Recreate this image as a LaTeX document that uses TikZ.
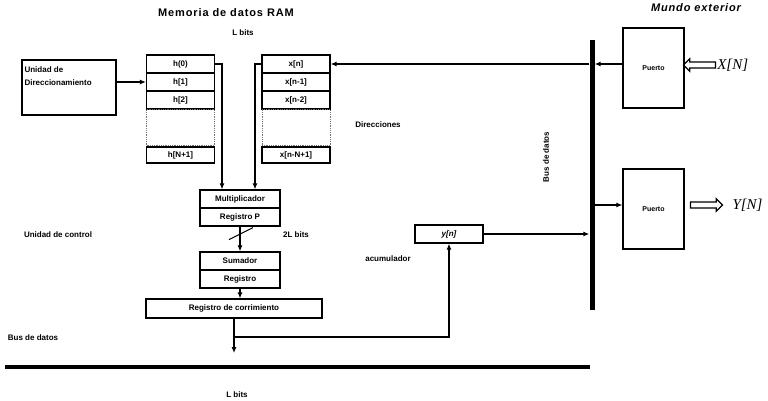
\documentclass[tikz,border=0pt]{standalone}
\usepackage{fontspec}
\setmainfont{Liberation Sans}
\newfontfamily\serifit{Liberation Serif}
\newfontfamily\widesans[LetterSpace=8]{Liberation Sans}
\usepackage{tikz}
\usetikzlibrary{arrows.meta,positioning,shapes.arrows}
\tikzset{
  dsp-text/.style={font=\fontsize{8}{9.5}\selectfont\bfseries, inner sep=1pt},
  dsp-head/.style={font=\widesans\fontsize{11}{13}\selectfont\bfseries, inner sep=1pt},
  dsp-cell/.style={draw=black, line width=1.3pt, minimum width=68pt, minimum height=18pt,
    inner sep=0pt, font=\fontsize{8}{9.5}\selectfont\bfseries},
  dsp-gap/.style={draw=black!55, densely dotted, line width=0.8pt, minimum width=68pt,
    minimum height=36pt, inner sep=0pt},
  dsp-unit/.style={draw=black, line width=1.3pt, minimum width=80pt, minimum height=18pt,
    inner sep=0pt, font=\fontsize{8}{9.5}\selectfont\bfseries},
  dsp-port/.style={draw=black, line width=1.2pt, minimum width=61pt, minimum height=80pt,
    inner sep=0pt, font=\fontsize{7}{8}\selectfont\bfseries},
  dsp-bus/.style={fill=black, draw=none, inner sep=0pt},
  dsp-io/.style={single arrow, draw=black, line width=1.2pt, minimum height=32pt,
    inner sep=2.4pt, single arrow head extend=3.2pt},
  dsp-sym/.style={font=\serifit\itshape\fontsize{15}{17}\selectfont, inner sep=1pt},
  flow/.style={-{Latex[length=6pt,width=5pt]}, line width=1.1pt}
}
\begin{document}
\begin{tikzpicture}[x=1pt, y=-1pt]
  \useasboundingbox (0,0) rectangle (768,401);

  % Titles
  \node[dsp-head] (ramtitle) at (226,13) {Memoria de datos RAM};
  \node[dsp-text] (lbitstop) at (243,33) {L bits};
  \node[dsp-head, font=\widesans\fontsize{11}{13}\selectfont\bfseries\itshape] (mundo) at (696,8) {Mundo exterior};

  % Addressing unit
  \node[draw, line width=1.3pt, minimum width=94pt, minimum height=55pt, inner sep=0pt] (dir) at (69,87.5) {};
  \node[dsp-text, anchor=north west, align=left] (dirtxt) at ([xshift=2pt,yshift=-6pt]dir.north west) {Unidad de\\[4pt]Direccionamiento};

  % Coefficients h
  \node[dsp-cell] (h0) at (180.5,64) {h(0)};
  \node[dsp-cell] (h1) at (180.5,82) {h[1]};
  \node[dsp-cell] (h2) at (180.5,100) {h[2]};
  \node[dsp-gap] (hgap) at (180.5,127.5) {};
  \node[dsp-cell, minimum height=16pt] (hN) at (180.5,155) {h[N+1]};

  % Samples x
  \node[dsp-cell] (x0) at (296,64) {x[n]};
  \node[dsp-cell] (x1) at (296,82) {x[n-1]};
  \node[dsp-cell] (x2) at (296,100) {x[n-2]};
  \node[dsp-gap] (xgap) at (296,127.5) {};
  \node[dsp-cell, minimum height=16pt] (xN) at (296,155) {x[n-N+1]};

  \node[dsp-text] (dirs) at (378,125) {Direcciones};

  % MAC
  \node[dsp-unit] (mul) at (240,199) {Multiplicador};
  \node[dsp-unit] (regp) at (240,217) {Registro P};
  \node[dsp-unit] (sum) at (240,261) {Sumador};
  \node[dsp-unit] (reg) at (240,279) {Registro};
  \node[dsp-unit, minimum width=176pt, minimum height=19pt] (cor) at (234,308.5) {Registro de corrimiento};
  \node[dsp-text] (twol) at (296,235) {2L bits};

  % Accumulator
  \node[dsp-unit, minimum width=68pt, font=\fontsize{8}{9.5}\selectfont\bfseries\itshape] (yn) at (449,234) {y[n]};
  \node[dsp-text] (acum) at (388,259) {acumulador};

  \node[dsp-text] (ctrl) at (58,235) {Unidad de control};

  % Buses
  \node[dsp-bus, minimum width=5pt, minimum height=270pt] (vbus) at (592,175) {};
  \node[dsp-text, rotate=90] (vbuslbl) at (546,157) {Bus de datos};
  \node[dsp-bus, minimum width=585pt, minimum height=4pt] (hbus) at (297.5,367) {};
  \node[dsp-text] (hbuslbl) at (33,338) {Bus de datos};
  \node[dsp-text] (lbitsbot) at (237,395) {L bits};

  % Ports
  \node[dsp-port] (pin) at (653.5,68) {Puerto};
  \node[dsp-port] (pout) at (653.5,209) {Puerto};
  \node[dsp-io, shape border rotate=180] (xarr) at (701,65) {};
  \node[dsp-sym, right=0pt of xarr] (xin) {X[N]};
  \node[dsp-io] (yarr) at (705,205) {};
  \node[dsp-sym, right=8pt of yarr] (yout) {Y[N]};

  % Connections
  \coordinate (acc) at (234,337);
  \coordinate (busin) at (234,353);
  \draw[flow] (dir.east |- h1.west) -- (h1.west);
  \draw[flow] (h0.east) -| ([xshift=-18pt]mul.north);
  \draw[flow] (x0.west) -| ([xshift=15pt]mul.north);
  \draw[flow] (regp.south) -- (sum.north);
  \draw[line width=1pt] ([xshift=-11pt,yshift=-13pt]regp.south) -- ([xshift=13pt,yshift=-1pt]regp.south);
  \draw[flow] (reg.south) -- (reg.south |- cor.north);
  \draw[flow] (cor.south) -- (busin);
  \draw[flow] (acc) -| (yn.south);
  \draw[flow] (yn.east) -- (yn.east -| vbus.west);
  \draw[flow] (x0.east -| pin.west) -- (x0.east -| vbus.east);
  \draw[flow] (x0.east -| vbus.west) -- (x0.east);
  \draw[flow] (yarr.west -| vbus.east) -- (yarr.west -| pout.west);
\end{tikzpicture}
\end{document}
